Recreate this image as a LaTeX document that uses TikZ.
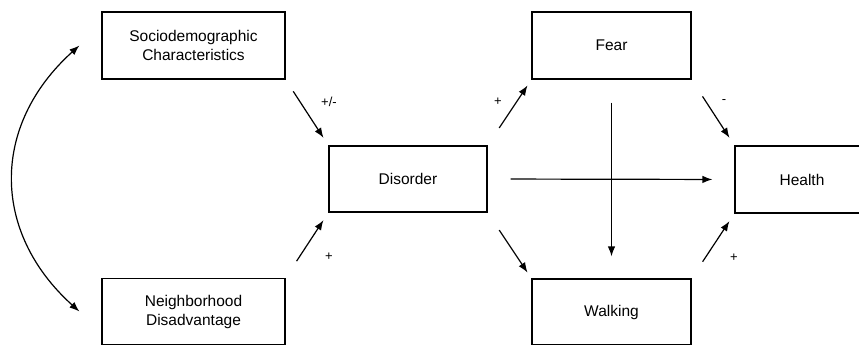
\documentclass[tikz,border=0pt]{standalone}
\usepackage{fontspec}
\setmainfont{Liberation Sans}
\usetikzlibrary{arrows.meta}
\begin{document}
\begin{tikzpicture}[x=1pt,y=-1pt,
  box/.style={draw,line width=1.2pt,minimum width=#1,inner sep=0pt,align=center,
    font=\fontsize{15.5}{19}\selectfont},
  link/.style={line width=1.2pt,-{Latex[length=10pt,width=7.5pt]}},
  sign/.style={font=\fontsize{13}{14}\selectfont,inner sep=0pt}]
\useasboundingbox (0,0) rectangle (859,345);

% variables
\node[box=183pt,minimum height=67pt] (socio) at (193.5,45.5) {Sociodemographic\\Characteristics};
\node[box=183pt,minimum height=66pt] (neigh) at (193.5,311.5) {Neighborhood\\Disadvantage};
\node[box=158pt,minimum height=66pt] (disorder) at (408,179) {Disorder};
\node[box=159pt,minimum height=67pt] (fear) at (611.5,45.5) {Fear};
\node[box=159pt,minimum height=66pt] (walking) at (611.5,312) {Walking};
\node[box=134pt,minimum height=67pt] (health) at (802,179.5) {Health};

% paths into disorder
\draw[link,shorten <=14pt,shorten >=9pt] (socio.south east) -- (disorder.north west);
\draw[link,shorten <=20pt,shorten >=9pt] (neigh.north east) -- (disorder.south west);
% paths out of disorder
\draw[link,shorten <=21pt,shorten >=7pt] (disorder.north east) -- (fear.south west);
\draw[link,shorten <=21pt,shorten >=7pt] (disorder.south east) -- (walking.north west);
\draw[link,shorten <=23pt,shorten >=22pt] (disorder.east) -- (health.west);
\draw[link,shorten <=23pt,shorten >=22pt] (fear.south) -- (walking.north);
% paths into health
\draw[link,shorten <=20pt,shorten >=9pt] (fear.south east) -- (health.north west);
\draw[link,shorten <=20pt,shorten >=9pt] (walking.north east) -- (health.south west);

% correlation between the exogenous variables
\coordinate (ctop) at ([xshift=-22pt]socio.west);
\coordinate (cbot) at ([xshift=-22pt]neigh.west);
\draw[line width=1.2pt,{Latex[length=10pt,width=7.5pt]}-{Latex[length=10pt,width=7.5pt]}]
  (ctop) .. controls (-9,125) and (-9,232) .. (cbot);

% signs
\node[sign] (s1) at (329,102) {+/-};
\node[sign] (s2) at (329,257) {+};
\node[sign] (s3) at (498,102) {+};
\node[sign] (s4) at (724,102) {-};
\node[sign] (s5) at (734,258) {+};
\end{tikzpicture}
\end{document}
